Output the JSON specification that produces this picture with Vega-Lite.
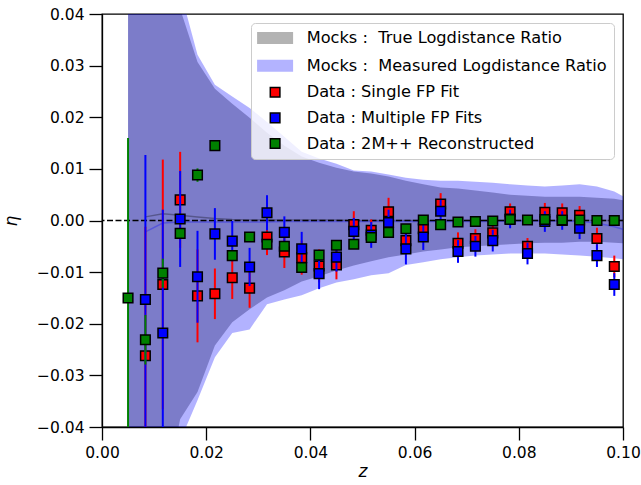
{
  "$schema": "https://vega.github.io/schema/vega-lite/v6.json",
  "autosize": "none",
  "width": 521,
  "height": 413,
  "padding": {"left": 102, "top": 14, "right": 18, "bottom": 58},
  "background": "white",
  "datasets": {
    "band": [
      {"z": 0.005, "thi": 0.09, "tlo": -0.09, "mhi": 0.10, "mlo": -0.10, "tmean": null, "mmean": null},
      {"z": 0.00833, "thi": 0.07, "tlo": -0.07, "mhi": 0.08, "mlo": -0.08, "tmean": 0.0007, "mmean": -0.0022},
      {"z": 0.01167, "thi": 0.055, "tlo": -0.055, "mhi": 0.06, "mlo": -0.06, "tmean": 0.0013, "mmean": -0.0005},
      {"z": 0.015, "thi": 0.041, "tlo": -0.0385, "mhi": 0.0446, "mlo": -0.0427, "tmean": 0.0010, "mmean": -0.0003},
      {"z": 0.01833, "thi": 0.0307, "tlo": -0.0332, "mhi": 0.0321, "mlo": -0.0348, "tmean": 0.0007, "mmean": -0.0003},
      {"z": 0.02167, "thi": 0.0255, "tlo": -0.0242, "mhi": 0.0263, "mlo": -0.0265, "tmean": 0.0004, "mmean": -0.0003},
      {"z": 0.025, "thi": 0.0226, "tlo": -0.0197, "mhi": 0.0240, "mlo": -0.0218, "tmean": 0.0002, "mmean": -0.0003},
      {"z": 0.02833, "thi": 0.0199, "tlo": -0.0172, "mhi": 0.0218, "mlo": -0.0211, "tmean": 0.0001, "mmean": -0.0003},
      {"z": 0.03167, "thi": 0.0170, "tlo": -0.0149, "mhi": 0.0191, "mlo": -0.0162, "tmean": 0.0001, "mmean": -0.0003},
      {"z": 0.035, "thi": 0.0145, "tlo": -0.0135, "mhi": 0.0162, "mlo": -0.0153, "tmean": 0.0001, "mmean": -0.0002},
      {"z": 0.03833, "thi": 0.0124, "tlo": -0.0118, "mhi": 0.0133, "mlo": -0.0145, "tmean": 0.0001, "mmean": -0.0002},
      {"z": 0.04167, "thi": 0.0112, "tlo": -0.0108, "mhi": 0.0120, "mlo": -0.0131, "tmean": 0.0001, "mmean": -0.0002},
      {"z": 0.045, "thi": 0.0102, "tlo": -0.0097, "mhi": 0.0110, "mlo": -0.0120, "tmean": 0.0001, "mmean": -0.0002},
      {"z": 0.04833, "thi": 0.0095, "tlo": -0.0087, "mhi": 0.0097, "mlo": -0.0114, "tmean": 0.0000, "mmean": -0.0002},
      {"z": 0.05167, "thi": 0.0091, "tlo": -0.0079, "mhi": 0.0095, "mlo": -0.0106, "tmean": 0.0000, "mmean": -0.0002},
      {"z": 0.055, "thi": 0.0085, "tlo": -0.0071, "mhi": 0.0089, "mlo": -0.0102, "tmean": 0.0000, "mmean": -0.0002},
      {"z": 0.05833, "thi": 0.0077, "tlo": -0.0066, "mhi": 0.0083, "mlo": -0.0086, "tmean": 0.0000, "mmean": -0.0002},
      {"z": 0.06167, "thi": 0.0070, "tlo": -0.0060, "mhi": 0.0079, "mlo": -0.0081, "tmean": 0.0000, "mmean": -0.0002},
      {"z": 0.065, "thi": 0.0064, "tlo": -0.0056, "mhi": 0.0077, "mlo": -0.0075, "tmean": 0.0000, "mmean": -0.0002},
      {"z": 0.06833, "thi": 0.0062, "tlo": -0.0052, "mhi": 0.0077, "mlo": -0.0071, "tmean": 0.0000, "mmean": -0.0002},
      {"z": 0.07167, "thi": 0.0058, "tlo": -0.0050, "mhi": 0.0075, "mlo": -0.0068, "tmean": 0.0000, "mmean": -0.0002},
      {"z": 0.075, "thi": 0.0054, "tlo": -0.0048, "mhi": 0.0073, "mlo": -0.0066, "tmean": 0.0000, "mmean": -0.0002},
      {"z": 0.07833, "thi": 0.0050, "tlo": -0.0046, "mhi": 0.0070, "mlo": -0.0064, "tmean": 0.0000, "mmean": -0.0001},
      {"z": 0.08167, "thi": 0.0048, "tlo": -0.0044, "mhi": 0.0068, "mlo": -0.0064, "tmean": 0.0000, "mmean": -0.0001},
      {"z": 0.085, "thi": 0.0046, "tlo": -0.0043, "mhi": 0.0066, "mlo": -0.0064, "tmean": 0.0000, "mmean": -0.0001},
      {"z": 0.08833, "thi": 0.0046, "tlo": -0.0043, "mhi": 0.0068, "mlo": -0.0066, "tmean": 0.0000, "mmean": -0.0001},
      {"z": 0.09167, "thi": 0.0046, "tlo": -0.0041, "mhi": 0.0070, "mlo": -0.0068, "tmean": 0.0000, "mmean": -0.0002},
      {"z": 0.095, "thi": 0.0044, "tlo": -0.0041, "mhi": 0.0066, "mlo": -0.0070, "tmean": 0.0000, "mmean": -0.0005},
      {"z": 0.09833, "thi": 0.0042, "tlo": -0.0043, "mhi": 0.0056, "mlo": -0.0073, "tmean": 0.0000, "mmean": -0.0012},
      {"z": 0.1, "thi": 0.0039, "tlo": -0.0044, "mhi": 0.0047, "mlo": -0.0075, "tmean": 0.0000, "mmean": -0.0017}
    ],
    "pts": [
      {"series": "Data : Single FP Fit", "z": 0.00833, "eta": -0.0262, "err": 0.025},
      {"series": "Data : Single FP Fit", "z": 0.01167, "eta": -0.0124, "err": 0.0242},
      {"series": "Data : Single FP Fit", "z": 0.015, "eta": 0.0040, "err": 0.0093},
      {"series": "Data : Single FP Fit", "z": 0.01833, "eta": -0.0146, "err": 0.0090},
      {"series": "Data : Single FP Fit", "z": 0.02167, "eta": -0.0142, "err": 0.0049},
      {"series": "Data : Single FP Fit", "z": 0.025, "eta": -0.0111, "err": 0.0041},
      {"series": "Data : Single FP Fit", "z": 0.02833, "eta": -0.0131, "err": 0.0038},
      {"series": "Data : Single FP Fit", "z": 0.03167, "eta": -0.0032, "err": 0.0035},
      {"series": "Data : Single FP Fit", "z": 0.035, "eta": -0.0061, "err": 0.0031},
      {"series": "Data : Single FP Fit", "z": 0.03833, "eta": -0.0072, "err": 0.0033},
      {"series": "Data : Single FP Fit", "z": 0.04167, "eta": -0.0088, "err": 0.0032},
      {"series": "Data : Single FP Fit", "z": 0.045, "eta": -0.0086, "err": 0.0028},
      {"series": "Data : Single FP Fit", "z": 0.04833, "eta": -0.0008, "err": 0.0026},
      {"series": "Data : Single FP Fit", "z": 0.05167, "eta": -0.0019, "err": 0.0021},
      {"series": "Data : Single FP Fit", "z": 0.055, "eta": 0.0017, "err": 0.0027},
      {"series": "Data : Single FP Fit", "z": 0.05833, "eta": -0.0039, "err": 0.0025},
      {"series": "Data : Single FP Fit", "z": 0.06167, "eta": -0.0016, "err": 0.0022},
      {"series": "Data : Single FP Fit", "z": 0.065, "eta": 0.0032, "err": 0.0021},
      {"series": "Data : Single FP Fit", "z": 0.06833, "eta": -0.0044, "err": 0.0021},
      {"series": "Data : Single FP Fit", "z": 0.07167, "eta": -0.0035, "err": 0.0018},
      {"series": "Data : Single FP Fit", "z": 0.075, "eta": -0.0024, "err": 0.0018},
      {"series": "Data : Single FP Fit", "z": 0.07833, "eta": 0.0017, "err": 0.0016},
      {"series": "Data : Single FP Fit", "z": 0.08167, "eta": -0.0050, "err": 0.0016},
      {"series": "Data : Single FP Fit", "z": 0.085, "eta": 0.0016, "err": 0.0018},
      {"series": "Data : Single FP Fit", "z": 0.08833, "eta": 0.0015, "err": 0.0018},
      {"series": "Data : Single FP Fit", "z": 0.09167, "eta": 0.0010, "err": 0.0018},
      {"series": "Data : Single FP Fit", "z": 0.095, "eta": -0.0035, "err": 0.0021},
      {"series": "Data : Single FP Fit", "z": 0.09833, "eta": -0.0089, "err": 0.0021},
      {"series": "Data : Multiple FP Fits", "z": 0.00833, "eta": -0.0153, "err": 0.028},
      {"series": "Data : Multiple FP Fits", "z": 0.01167, "eta": -0.0218, "err": 0.0239},
      {"series": "Data : Multiple FP Fits", "z": 0.015, "eta": 0.0003, "err": 0.0093},
      {"series": "Data : Multiple FP Fits", "z": 0.01833, "eta": -0.0109, "err": 0.0089},
      {"series": "Data : Multiple FP Fits", "z": 0.02167, "eta": -0.0026, "err": 0.0050},
      {"series": "Data : Multiple FP Fits", "z": 0.025, "eta": -0.0040, "err": 0.0039},
      {"series": "Data : Multiple FP Fits", "z": 0.02833, "eta": -0.0090, "err": 0.0037},
      {"series": "Data : Multiple FP Fits", "z": 0.03167, "eta": 0.0015, "err": 0.0034},
      {"series": "Data : Multiple FP Fits", "z": 0.035, "eta": -0.0023, "err": 0.0031},
      {"series": "Data : Multiple FP Fits", "z": 0.03833, "eta": -0.0055, "err": 0.0033},
      {"series": "Data : Multiple FP Fits", "z": 0.04167, "eta": -0.0103, "err": 0.0030},
      {"series": "Data : Multiple FP Fits", "z": 0.045, "eta": -0.0071, "err": 0.0028},
      {"series": "Data : Multiple FP Fits", "z": 0.04833, "eta": -0.0021, "err": 0.0026},
      {"series": "Data : Multiple FP Fits", "z": 0.05167, "eta": -0.0028, "err": 0.0025},
      {"series": "Data : Multiple FP Fits", "z": 0.055, "eta": -0.0004, "err": 0.0025},
      {"series": "Data : Multiple FP Fits", "z": 0.05833, "eta": -0.0055, "err": 0.0030},
      {"series": "Data : Multiple FP Fits", "z": 0.06167, "eta": -0.0032, "err": 0.0025},
      {"series": "Data : Multiple FP Fits", "z": 0.065, "eta": 0.0018, "err": 0.0022},
      {"series": "Data : Multiple FP Fits", "z": 0.06833, "eta": -0.0060, "err": 0.0022},
      {"series": "Data : Multiple FP Fits", "z": 0.07167, "eta": -0.0050, "err": 0.0020},
      {"series": "Data : Multiple FP Fits", "z": 0.075, "eta": -0.0039, "err": 0.0021},
      {"series": "Data : Multiple FP Fits", "z": 0.07833, "eta": 0.0003, "err": 0.0018},
      {"series": "Data : Multiple FP Fits", "z": 0.08167, "eta": -0.0064, "err": 0.0021},
      {"series": "Data : Multiple FP Fits", "z": 0.085, "eta": -0.0002, "err": 0.0020},
      {"series": "Data : Multiple FP Fits", "z": 0.08833, "eta": 0.0000, "err": 0.0018},
      {"series": "Data : Multiple FP Fits", "z": 0.09167, "eta": -0.0015, "err": 0.0021},
      {"series": "Data : Multiple FP Fits", "z": 0.095, "eta": -0.0068, "err": 0.0022},
      {"series": "Data : Multiple FP Fits", "z": 0.09833, "eta": -0.0124, "err": 0.0022},
      {"series": "Data : 2M++ Reconstructed", "z": 0.005, "eta": -0.0150, "err": 0.031},
      {"series": "Data : 2M++ Reconstructed", "z": 0.00833, "eta": -0.0231, "err": 0.0048},
      {"series": "Data : 2M++ Reconstructed", "z": 0.01167, "eta": -0.0102, "err": 0.0028},
      {"series": "Data : 2M++ Reconstructed", "z": 0.015, "eta": -0.0025, "err": 0.0010},
      {"series": "Data : 2M++ Reconstructed", "z": 0.01833, "eta": 0.0088, "err": 0.0013},
      {"series": "Data : 2M++ Reconstructed", "z": 0.02167, "eta": 0.0145, "err": 0.0008},
      {"series": "Data : 2M++ Reconstructed", "z": 0.025, "eta": -0.0068, "err": 0.0008},
      {"series": "Data : 2M++ Reconstructed", "z": 0.02833, "eta": -0.0032, "err": 0.0008},
      {"series": "Data : 2M++ Reconstructed", "z": 0.03167, "eta": -0.0046, "err": 0.0008},
      {"series": "Data : 2M++ Reconstructed", "z": 0.035, "eta": -0.0050, "err": 0.0008},
      {"series": "Data : 2M++ Reconstructed", "z": 0.03833, "eta": -0.0091, "err": 0.0008},
      {"series": "Data : 2M++ Reconstructed", "z": 0.04167, "eta": -0.0067, "err": 0.0008},
      {"series": "Data : 2M++ Reconstructed", "z": 0.045, "eta": -0.0048, "err": 0.0007},
      {"series": "Data : 2M++ Reconstructed", "z": 0.04833, "eta": -0.0046, "err": 0.0007},
      {"series": "Data : 2M++ Reconstructed", "z": 0.05167, "eta": -0.0033, "err": 0.0007},
      {"series": "Data : 2M++ Reconstructed", "z": 0.055, "eta": -0.0023, "err": 0.0006},
      {"series": "Data : 2M++ Reconstructed", "z": 0.05833, "eta": -0.0016, "err": 0.0006},
      {"series": "Data : 2M++ Reconstructed", "z": 0.06167, "eta": 0.0001, "err": 0.0005},
      {"series": "Data : 2M++ Reconstructed", "z": 0.065, "eta": -0.0008, "err": 0.0005},
      {"series": "Data : 2M++ Reconstructed", "z": 0.06833, "eta": -0.0003, "err": 0.0004},
      {"series": "Data : 2M++ Reconstructed", "z": 0.07167, "eta": -0.0002, "err": 0.0004},
      {"series": "Data : 2M++ Reconstructed", "z": 0.075, "eta": -0.0001, "err": 0.0004},
      {"series": "Data : 2M++ Reconstructed", "z": 0.07833, "eta": 0.0002, "err": 0.0004},
      {"series": "Data : 2M++ Reconstructed", "z": 0.08167, "eta": 0.0001, "err": 0.0004},
      {"series": "Data : 2M++ Reconstructed", "z": 0.085, "eta": 0.0002, "err": 0.0004},
      {"series": "Data : 2M++ Reconstructed", "z": 0.08833, "eta": 0.0001, "err": 0.0004},
      {"series": "Data : 2M++ Reconstructed", "z": 0.09167, "eta": 0.0001, "err": 0.0004},
      {"series": "Data : 2M++ Reconstructed", "z": 0.095, "eta": 0.0000, "err": 0.0004},
      {"series": "Data : 2M++ Reconstructed", "z": 0.09833, "eta": 0.0000, "err": 0.0004}
    ]
  },
  "layer": [
    {
      "data": {"name": "band"},
      "mark": {"type": "area", "color": "black", "opacity": 0.3, "clip": true},
      "encoding": {
        "x": {"field": "z", "type": "quantitative", "title": "z", "scale": {"domain": [0, 0.1], "nice": false, "zero": false}, "axis": {"values": [0, 0.02, 0.04, 0.06, 0.08, 0.1], "format": ".2f"}},
        "y": {"field": "tlo", "type": "quantitative", "title": "η", "scale": {"domain": [-0.04, 0.04], "nice": false, "zero": false}, "axis": {"values": [-0.04, -0.03, -0.02, -0.01, 0, 0.01, 0.02, 0.03, 0.04], "format": ".2f"}},
        "y2": {"field": "thi"}
      }
    },
    {
      "data": {"name": "band"},
      "mark": {"type": "area", "color": "blue", "opacity": 0.3, "clip": true},
      "encoding": {
        "x": {"field": "z", "type": "quantitative", "title": "z"},
        "y": {"field": "mlo", "type": "quantitative", "title": "η"},
        "y2": {"field": "mhi"}
      }
    },
    {
      "data": {"name": "band"},
      "mark": {"type": "line", "color": "black", "opacity": 0.3, "strokeWidth": 1.5, "clip": true},
      "encoding": {
        "x": {"field": "z", "type": "quantitative", "title": "z"},
        "y": {"field": "tmean", "type": "quantitative", "title": "η"}
      }
    },
    {
      "data": {"name": "band"},
      "mark": {"type": "line", "color": "blue", "opacity": 0.3, "strokeWidth": 1.5, "clip": true},
      "encoding": {
        "x": {"field": "z", "type": "quantitative", "title": "z"},
        "y": {"field": "mmean", "type": "quantitative", "title": "η"}
      }
    },
    {
      "data": {"values": [{"level": 0}]},
      "mark": {"type": "rule", "color": "black", "strokeWidth": 1.5, "strokeDash": [6, 2.5]},
      "encoding": {
        "y": {"field": "level", "type": "quantitative", "title": "η"}
      }
    },
    {
      "data": {"name": "pts"},
      "transform": [{"filter": "datum.series === 'Data : Single FP Fit'"}],
      "layer": [
        {
          "mark": {"type": "errorbar", "thickness": 2, "color": "#ff0000", "clip": true},
          "encoding": {
            "x": {"field": "z", "type": "quantitative", "title": "z"},
            "y": {"field": "eta", "type": "quantitative", "title": "η"},
            "yError": {"field": "err"}
          }
        },
        {
          "mark": {"type": "point", "filled": true, "size": 144, "strokeWidth": 1.5, "opacity": 1, "clip": true},
          "encoding": {
            "x": {"field": "z", "type": "quantitative", "title": "z"},
            "y": {"field": "eta", "type": "quantitative", "title": "η"},
            "color": {"field": "series", "type": "nominal", "legend": {"title": null}, "scale": {"domain": ["Mocks :\u00a0 True Logdistance Ratio", "Mocks :\u00a0 Measured Logdistance Ratio", "Data : Single FP Fit", "Data : Multiple FP Fits", "Data : 2M++ Reconstructed"], "range": ["#b3b3b3", "#b3b3ff", "#ff0000", "#0000ff", "#008000"]}},
            "shape": {"field": "series", "type": "nominal", "legend": {"title": null}, "scale": {"domain": ["Mocks :\u00a0 True Logdistance Ratio", "Mocks :\u00a0 Measured Logdistance Ratio", "Data : Single FP Fit", "Data : Multiple FP Fits", "Data : 2M++ Reconstructed"], "range": ["M-3,-1H3V1H-3Z", "M-3,-1H3V1H-3Z", "M-0.8,-0.8H0.8V0.8H-0.8Z", "M-0.8,-0.8H0.8V0.8H-0.8Z", "M-0.8,-0.8H0.8V0.8H-0.8Z"]}},
            "stroke": {"field": "series", "type": "nominal", "legend": {"title": null}, "scale": {"domain": ["Mocks :\u00a0 True Logdistance Ratio", "Mocks :\u00a0 Measured Logdistance Ratio", "Data : Single FP Fit", "Data : Multiple FP Fits", "Data : 2M++ Reconstructed"], "range": ["transparent", "transparent", "black", "black", "black"]}}
          }
        }
      ]
    },
    {
      "data": {"name": "pts"},
      "transform": [{"filter": "datum.series === 'Data : Multiple FP Fits'"}],
      "layer": [
        {
          "mark": {"type": "errorbar", "thickness": 2, "color": "#0000ff", "clip": true},
          "encoding": {
            "x": {"field": "z", "type": "quantitative", "title": "z"},
            "y": {"field": "eta", "type": "quantitative", "title": "η"},
            "yError": {"field": "err"}
          }
        },
        {
          "mark": {"type": "point", "filled": true, "size": 144, "strokeWidth": 1.5, "opacity": 1, "clip": true},
          "encoding": {
            "x": {"field": "z", "type": "quantitative", "title": "z"},
            "y": {"field": "eta", "type": "quantitative", "title": "η"},
            "color": {"field": "series", "type": "nominal", "legend": {"title": null}},
            "shape": {"field": "series", "type": "nominal", "legend": {"title": null}},
            "stroke": {"field": "series", "type": "nominal", "legend": {"title": null}}
          }
        }
      ]
    },
    {
      "data": {"name": "pts"},
      "transform": [{"filter": "datum.series === 'Data : 2M++ Reconstructed'"}],
      "layer": [
        {
          "mark": {"type": "errorbar", "thickness": 2, "color": "#008000", "clip": true},
          "encoding": {
            "x": {"field": "z", "type": "quantitative", "title": "z"},
            "y": {"field": "eta", "type": "quantitative", "title": "η"},
            "yError": {"field": "err"}
          }
        },
        {
          "mark": {"type": "point", "filled": true, "size": 144, "strokeWidth": 1.5, "opacity": 1, "clip": true},
          "encoding": {
            "x": {"field": "z", "type": "quantitative", "title": "z"},
            "y": {"field": "eta", "type": "quantitative", "title": "η"},
            "color": {"field": "series", "type": "nominal", "legend": {"title": null}},
            "shape": {"field": "series", "type": "nominal", "legend": {"title": null}},
            "stroke": {"field": "series", "type": "nominal", "legend": {"title": null}}
          }
        }
      ]
    }
  ],
  "config": {
    "font": "DejaVu Sans",
    "view": {"stroke": "black", "strokeWidth": 1.3},
    "axis": {
      "grid": false,
      "domainColor": "black",
      "domainWidth": 1.3,
      "tickColor": "black",
      "tickWidth": 1.3,
      "tickSize": 13,
      "labelFont": "DejaVu Sans",
      "labelFontSize": 15.5,
      "labelColor": "black",
      "labelPadding": 5,
      "labelFlush": false,
      "titleFont": "DejaVu Sans",
      "titleFontSize": 17,
      "titleFontWeight": "normal",
      "titleFontStyle": "italic",
      "titleColor": "black"
    },
    "axisX": {"titlePadding": 3},
    "axisY": {"titlePadding": 16},
    "legend": {
      "orient": "top-right",
      "offset": 9,
      "fillColor": "rgba(255,255,255,0.8)",
      "strokeColor": "#cccccc",
      "cornerRadius": 4,
      "padding": 7,
      "labelFont": "DejaVu Sans",
      "labelFontSize": 16.2,
      "labelColor": "black",
      "labelLimit": 600,
      "symbolSize": 144,
      "symbolStrokeWidth": 1.5,
      "symbolOffset": 9,
      "labelOffset": 23.5,
      "rowPadding": 8.6
    }
  }
}
